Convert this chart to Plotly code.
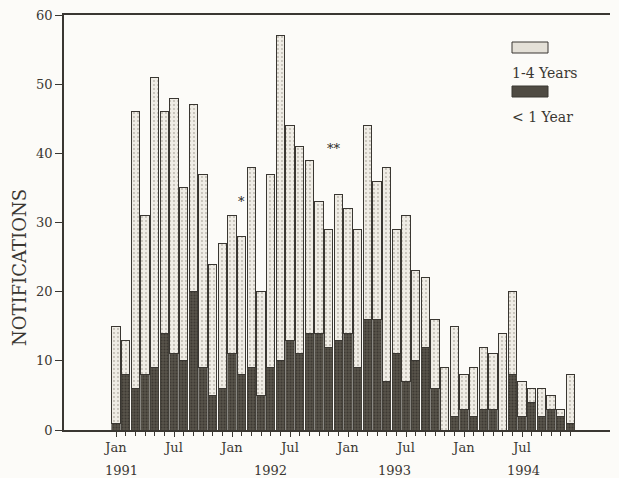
import plotly.graph_objects as go

# Monthly notifications, January 1991 - December 1994
years = [1991, 1992, 1993, 1994]
month_abbr = ["Jan", "Feb", "Mar", "Apr", "May", "Jun",
              "Jul", "Aug", "Sep", "Oct", "Nov", "Dec"]

under_one = [1, 8, 6, 8, 9, 14, 11, 10, 20, 9, 5, 6,
             11, 8, 9, 5, 9, 10, 13, 11, 14, 14, 12, 13,
             14, 9, 16, 16, 7, 11, 7, 10, 12, 6, 0, 2,
             3, 2, 3, 3, 0, 8, 2, 4, 2, 3, 2, 1]

one_to_four = [14, 5, 40, 23, 42, 32, 37, 25, 27, 28, 19, 21,
               20, 20, 29, 15, 28, 47, 31, 30, 25, 19, 17, 21,
               18, 20, 28, 20, 31, 18, 24, 13, 10, 10, 9, 13,
               5, 7, 9, 8, 14, 12, 5, 2, 4, 2, 1, 7]

month_labels = [f"{m} {y}" for y in years for m in month_abbr]
x_pos = list(range(len(month_labels)))

tick_months = ["Jan", "Jul"]
year_labels = ["1991", "1992", "1993", "1994"]
year_label_pos = [0.6, 16.0, 28.8, 42.2]

# footnote markers above individual months
marker_text = ["*", "**"]
marker_x = [13.0, 22.6]
marker_y = [33.0, 40.7]

FONT = "DejaVu Serif"
INK = "#3a3732"
PAPER = "#fcfbf8"

fig = go.Figure()

fig.add_trace(go.Bar(
    x=x_pos, y=under_one, name="< 1 Year",
    customdata=month_labels,
    hovertemplate="%{customdata}: %{y}<extra>< 1 Year</extra>",
    marker=dict(
        color="#514d45",
        line=dict(color="#3b3832", width=0.6),
        pattern=dict(shape=".", bgcolor="#57534a", fgcolor="#23201c",
                     size=3, solidity=0.35),
    ),
))
fig.add_trace(go.Bar(
    x=x_pos, y=one_to_four, name="1-4 Years",
    customdata=month_labels,
    hovertemplate="%{customdata}: %{y}<extra>1-4 Years</extra>",
    marker=dict(
        color="#eeebe3",
        line=dict(color=INK, width=1),
        pattern=dict(shape=".", bgcolor="#efece5", fgcolor="#858075",
                     size=4, solidity=0.18),
    ),
))

W, H = 619, 478
L, R, T, B = 64, 9, 15, 48
pw, ph = W - L - R, H - T - B


def px_x(v):
    return (v - L) / pw


def px_y(v):
    return (H - B - v) / ph


# year captions under the month ticks
annotations = []
for txt, xp in zip(year_labels, year_label_pos):
    annotations.append(dict(
        x=xp, y=px_y(470), xref="x", yref="paper", text=txt, showarrow=False,
        xanchor="center", yanchor="middle",
        font=dict(family=FONT, size=13, color=INK)))

for txt, xp, yp in zip(marker_text, marker_x, marker_y):
    annotations.append(dict(
        x=xp, y=yp, xref="x", yref="y", text=txt, showarrow=False,
        xanchor="center", yanchor="middle",
        font=dict(family=FONT, size=13, color="#2a2824")))

# vertical axis caption
annotations.append(dict(
    x=px_x(19), y=px_y(268), xref="paper", yref="paper",
    text="NOTIFICATIONS", textangle=-90, showarrow=False,
    xanchor="center", yanchor="middle",
    font=dict(family=FONT, size=18, color=INK)))

# legend: swatch above each caption
shapes = [
    dict(type="rect", xref="paper", yref="paper",
         x0=px_x(512), x1=px_x(548), y0=px_y(53), y1=px_y(42),
         fillcolor="#e4e0d7", line=dict(color=INK, width=1)),
    dict(type="rect", xref="paper", yref="paper",
         x0=px_x(512), x1=px_x(548), y0=px_y(97), y1=px_y(86),
         fillcolor="#4f4b43", line=dict(color="#3b3832", width=1)),
]
annotations += [
    dict(x=px_x(510), y=px_y(73), xref="paper", yref="paper",
         text="1-4 Years", showarrow=False, xanchor="left", yanchor="middle",
         font=dict(family=FONT, size=14, color=INK)),
    dict(x=px_x(510), y=px_y(117), xref="paper", yref="paper",
         text="< 1 Year", showarrow=False, xanchor="left", yanchor="middle",
         font=dict(family=FONT, size=14, color=INK)),
]

fig.update_layout(
    width=W, height=H,
    margin=dict(l=L, r=R, t=T, b=B, pad=0),
    paper_bgcolor=PAPER, plot_bgcolor=PAPER,
    barmode="stack", bargap=0.12,
    showlegend=False,
    font=dict(family=FONT, size=13, color=INK),
    shapes=shapes, annotations=annotations,
    xaxis=dict(
        range=[-5.38, 51.1],
        tickmode="array",
        tickvals=[i for i in x_pos if month_labels[i].split()[0] in tick_months],
        ticktext=[month_labels[i].split()[0] for i in x_pos
                  if month_labels[i].split()[0] in tick_months],
        ticks="outside", ticklen=5, tickwidth=1, tickcolor=INK,
        minor=dict(tickmode="array", tickvals=x_pos, ticks="outside",
                   ticklen=4, tickwidth=1, tickcolor=INK),
        showline=True, linecolor=INK, linewidth=1.5, mirror=True,
        showgrid=False, zeroline=False,
        tickfont=dict(family=FONT, size=13, color=INK),
    ),
    yaxis=dict(
        range=[0, 60], tickvals=[0, 10, 20, 30, 40, 50, 60],
        ticks="outside", ticklen=7, tickwidth=1, tickcolor=INK,
        showline=True, linecolor=INK, linewidth=1.5,
        showgrid=False, zeroline=False,
        tickfont=dict(family=FONT, size=13, color=INK),
    ),
)

fig.write_html("out.html")
